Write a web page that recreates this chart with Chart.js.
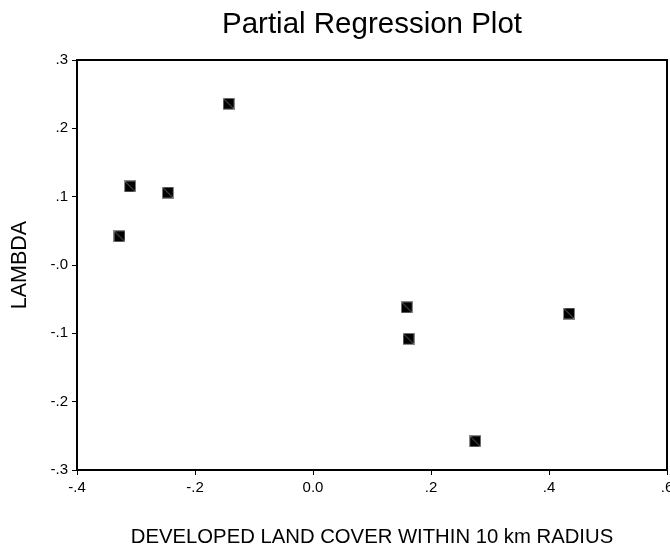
<!DOCTYPE html>
<html>
<head>
<meta charset="utf-8">
<script src="https://cdn.jsdelivr.net/npm/chart.js@4.4.1/dist/chart.umd.min.js"></script>
<style>
  body { margin: 0; background: #fff; }
  #wrap { width: 670px; height: 552px; }
</style>
</head>
<body>
<div id="wrap"><canvas id="plot" width="670" height="552"></canvas></div>
<script>
// data
const developedLand = [-0.143, -0.310, -0.246, -0.328, 0.159, 0.162, 0.434, 0.275];
const lambdaResid = [0.236, 0.115, 0.106, 0.042, -0.062, -0.108, -0.071, -0.258];
const xTickLabels = ['-.4', '-.2', '0.0', '.2', '.4', '.6'];
const yTickLabels = ['-.3', '-.2', '-.1', '-.0', '.1', '.2', '.3'];

const FONT = "'Liberation Sans', Arial, sans-serif";

// square marker with the thin diagonal seen in the reference
function makeMarker() {
    const c = document.createElement('canvas');
    c.width = 12; c.height = 12;
    const g = c.getContext('2d');
    g.fillStyle = '#000';
    g.fillRect(0, 0, 12, 12);
    g.strokeStyle = '#888';
    g.lineWidth = 1;
    g.strokeRect(0.5, 0.5, 11, 11);
    g.beginPath();
    g.moveTo(1, 1);
    g.lineTo(11, 11);
    g.strokeStyle = '#666';
    g.stroke();
    return c;
}

const points = developedLand.map((x, i) => ({ x: x, y: lambdaResid[i] }));

// frame around the plot + title centred over the plot area
const framePlugin = {
    id: 'frame',
    afterDraw(chart) {
        const { ctx, chartArea: a } = chart;
        ctx.save();
        ctx.strokeStyle = '#000';
        ctx.lineWidth = 2;
        ctx.strokeRect(a.left, a.top, a.right - a.left, a.bottom - a.top);
        ctx.fillStyle = '#000';
        ctx.font = '29.5px ' + FONT;
        ctx.textAlign = 'center';
        ctx.textBaseline = 'alphabetic';
        ctx.fillText('Partial Regression Plot', (a.left + a.right) / 2, 33);
        ctx.restore();
    }
};

new Chart(document.getElementById('plot'), {
    type: 'scatter',
    data: {
        datasets: [{
            data: points,
            pointStyle: makeMarker(),
            pointRadius: 6,
            pointHoverRadius: 6
        }]
    },
    options: {
        responsive: false,
        animation: false,
        layout: { autoPadding: false, padding: { top: 60, right: 3, left: 0, bottom: 0 } },
        plugins: {
            legend: { display: false },
            tooltip: { enabled: false }
        },
        scales: {
            x: {
                type: 'linear',
                min: -0.4,
                max: 0.6,
                ticks: {
                    stepSize: 0.2,
                    color: '#000',
                    font: { family: FONT, size: 15 },
                    padding: 4,
                    maxRotation: 0,
                    callback: (v, i) => xTickLabels[i]
                },
                grid: { drawOnChartArea: false, tickLength: 5, color: '#000' },
                border: { color: '#000', width: 2 },
                title: {
                    display: true,
                    text: 'DEVELOPED LAND COVER WITHIN 10 km RADIUS',
                    color: '#000',
                    font: { family: FONT, size: 20.3 },
                    padding: { top: 0, bottom: 2 }
                },
                afterFit(s) { s.height = 82; s.paddingLeft = 0; s.paddingRight = 0; }
            },
            y: {
                type: 'linear',
                min: -0.3,
                max: 0.3,
                ticks: {
                    stepSize: 0.1,
                    color: '#000',
                    font: { family: FONT, size: 15 },
                    padding: 4,
                    callback: (v, i) => yTickLabels[i]
                },
                grid: { drawOnChartArea: false, tickLength: 5, color: '#000' },
                border: { color: '#000', width: 2 },
                title: {
                    display: true,
                    text: 'LAMBDA',
                    color: '#000',
                    font: { family: FONT, size: 21.5 },
                    padding: { top: 7, bottom: 0 }
                },
                afterFit(s) { s.width = 77; s.paddingTop = 0; s.paddingBottom = 0; }
            }
        }
    },
    plugins: [framePlugin]
});
</script>
</body>
</html>
